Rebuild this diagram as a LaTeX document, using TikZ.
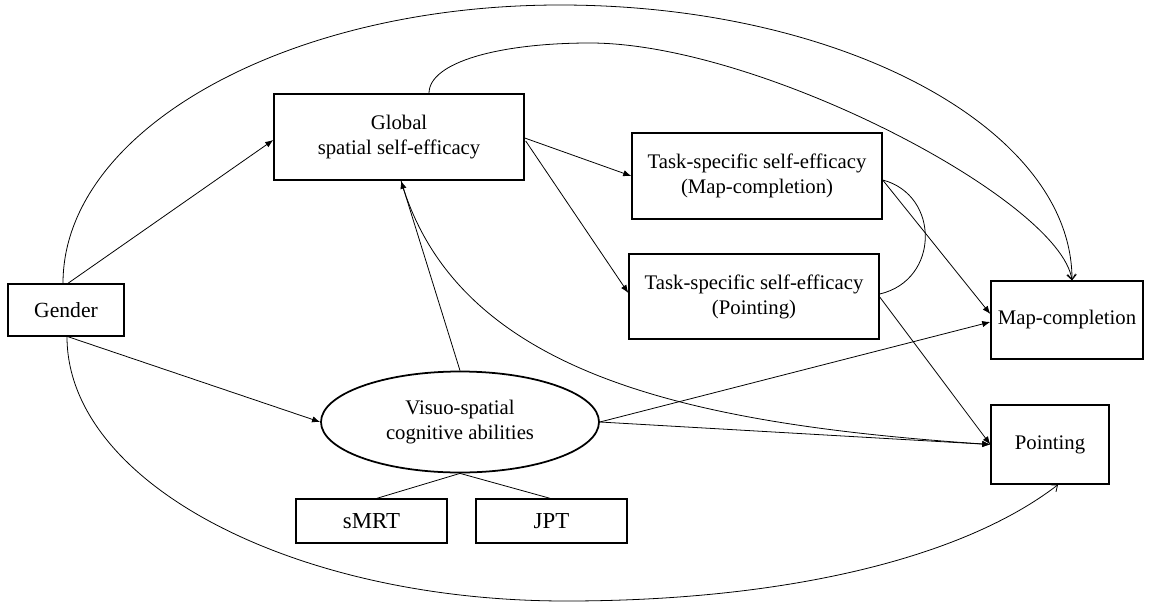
\documentclass[tikz,border=0pt]{standalone}
\usepackage{fontspec}
\setmainfont{Liberation Serif}
\usetikzlibrary{arrows.meta,shapes.geometric}
\begin{document}
\begin{tikzpicture}[x=0.02cm,y=-0.02cm,
  every node/.style={inner sep=0pt,align=center,font=\fontsize{11.8}{14.2}\selectfont},
  box/.style={draw,line width=0.8pt,rectangle},
  sz/.style 2 args={minimum width=#1*0.02cm,minimum height=#2*0.02cm},
  conn/.style={line width=0.45pt},
  fa/.style={conn,-{Latex[length=4.6pt,width=3.6pt]}},
  oa/.style={conn,-{Straight Barb[length=3pt,width=5pt]}},
]
\useasboundingbox (0,0) rectangle (1152,605);

\node[box,sz={116}{52},font=\fontsize{12.3}{14}\selectfont] (gender) at (66,310) {Gender};
\node[box,sz={250}{86}] (global) at (399,137) {Global\\spatial self-efficacy};
\node[box,sz={250}{86}] (taskmap) at (757,176) {Task-specific self-efficacy\\(Map-completion)};
\node[box,sz={250}{85}] (taskpt) at (754,296.5) {Task-specific self-efficacy\\(Pointing)};
\node[box,sz={152}{78}] (mapc) at (1067,320) {Map-completion};
\node[box,sz={118}{79}] (point) at (1050,444.5) {Pointing};
\node[draw,ellipse,line width=1pt,sz={278}{101}] (vsca) at (460,422) {Visuo-spatial\\cognitive abilities};
\node[box,sz={151}{44},font=\fontsize{13}{15}\selectfont] (smrt) at (371.5,521) {sMRT};
\node[box,sz={151}{44},font=\fontsize{13}{15}\selectfont] (jpt) at (551.5,521) {JPT};

% big arcs
\draw[oa] ([shift={(-3,0)}]gender.north) .. controls (63,130) and (286,5) .. (560,5)
  .. controls (843,5) and (1072,129) .. ([shift={(5,0)}]mapc.north);
\draw[oa] ([shift={(30,0)}]global.north) .. controls (429,62) and (500,43) .. (590,43)
  .. controls (760,43) and (1060,200) .. ([shift={(5,0)}]mapc.north);
\draw[oa] ([shift={(1,0)}]gender.south) .. controls (67,482) and (291,601) .. (566,601)
  .. controls (780,601) and (960,560) .. ([shift={(8,0)}]point.south);

% straight paths
\draw[fa] ([shift={(2,0)}]gender.north) -- ([shift={(0,3)}]global.west);
\draw[fa] ([shift={(2,0)}]gender.south) -- (vsca.west);
\draw[fa] ([shift={(0,1)}]global.east) -- (taskmap.west);
\draw[fa] ([shift={(1,4)}]global.east) -- ([shift={(0,-3.5)}]taskpt.west);
\draw[fa] (vsca.north) -- ([shift={(2,0)}]global.south);
\draw[fa] ([shift={(2,0)}]global.south) .. controls (458,375) and (690,424) .. (point.west);
\draw[fa] ([shift={(0,4)}]taskmap.east) -- ([shift={(0,-6)}]mapc.west);
\draw[fa] ([shift={(0,0.5)}]taskpt.east) -- (point.west);
\draw[fa] (vsca.east) -- ([shift={(0,2)}]mapc.west);
\draw[fa] (vsca.east) -- (point.west);

% correlation
\draw[conn] ([shift={(0,4)}]taskmap.east) .. controls (940,195) and (940,280) .. ([shift={(0,-2.5)}]taskpt.east);

% indicators
\draw[conn] (vsca.south) -- ([shift={(5.5,0)}]smrt.north);
\draw[conn] (vsca.south) -- ([shift={(-1.5,0)}]jpt.north);
\end{tikzpicture}
\end{document}
